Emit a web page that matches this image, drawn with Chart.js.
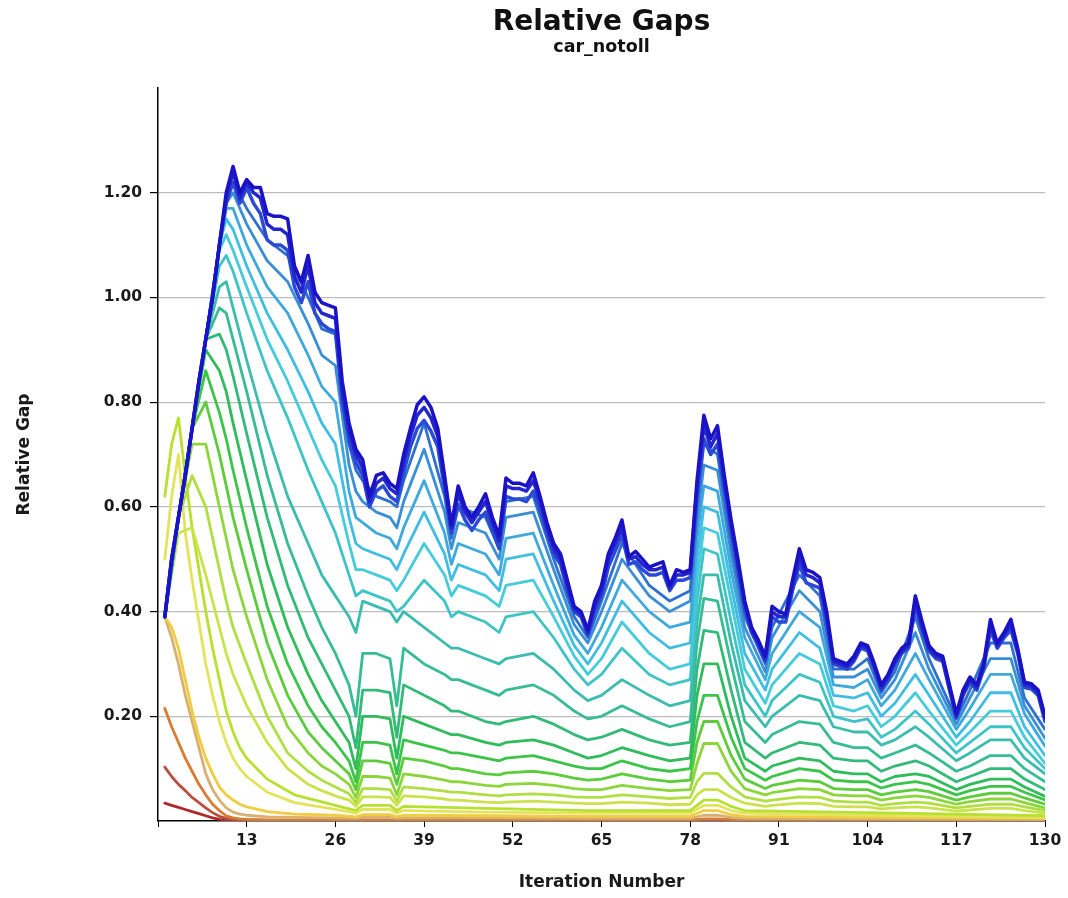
<!DOCTYPE html>
<html>
<head>
  <meta charset="utf-8">
  <title>Relative Gaps</title>
  <script src="https://cdn.jsdelivr.net/npm/chart.js"></script>
  <style>
    html, body { margin: 0; padding: 0; background: #fff; }
  </style>
</head>
<body>
  <canvas id="gapChart" width="1068" height="898"></canvas>

  <script>
    const titleText = 'Relative Gaps';
    const subTitleText = 'car_notoll';

    // top (blue) lines: one value per iteration, 1..130
    const blueTop = [
      .39,.50,.58,.66,.75,.84,.92,1.00,1.10,1.20,
      1.25,1.20,1.225,1.21,1.21,1.16,1.155,1.155,1.15,1.06,
      1.03,1.08,1.01,.99,.985,.98,.84,.76,.71,.69,
      .62,.66,.665,.645,.635,.70,.75,.795,.81,.79,
      .75,.66,.565,.64,.60,.58,.60,.625,.58,.545,
      .655,.645,.645,.64,.665,.62,.57,.53,.51,.46,
      .41,.40,.365,.42,.45,.51,.54,.575,.505,.515,
      .50,.485,.49,.495,.45,.48,.475,.48,.65,.775,
      .73,.755,.66,.575,.50,.42,.37,.345,.315,.41,
      .40,.395,.46,.52,.48,.475,.465,.40,.31,.305,
      .30,.315,.34,.335,.30,.26,.28,.31,.33,.34,
      .43,.38,.335,.32,.315,.26,.205,.25,.275,.26,
      .30,.385,.34,.36,.385,.33,.265,.262,.25,.20
    ];
    const blueMid = [
      .39,.50,.58,.66,.75,.84,.92,1.00,1.10,1.19,
      1.24,1.19,1.22,1.20,1.19,1.14,1.13,1.13,1.12,1.04,
      1.01,1.06,.99,.97,.965,.96,.82,.745,.70,.675,
      .61,.645,.655,.635,.625,.685,.735,.775,.79,.77,
      .735,.65,.56,.625,.59,.57,.59,.61,.57,.535,
      .64,.635,.635,.63,.65,.61,.56,.52,.50,.45,
      .405,.395,.36,.41,.44,.50,.53,.56,.50,.505,
      .49,.48,.48,.485,.445,.47,.47,.475,.64,.755,
      .715,.74,.65,.565,.49,.415,.365,.34,.31,.40,
      .39,.39,.45,.505,.47,.465,.455,.39,.305,.30,
      .295,.31,.335,.33,.295,.255,.275,.305,.325,.335,
      .42,.37,.33,.315,.31,.255,.20,.245,.27,.255,
      .295,.375,.335,.355,.375,.325,.26,.258,.245,.196
    ];
    const blueLow = [
      .39,.50,.58,.66,.75,.84,.92,1.00,1.10,1.18,
      1.22,1.18,1.21,1.18,1.16,1.11,1.10,1.10,1.09,1.02,
      .99,1.03,.97,.95,.94,.935,.80,.725,.685,.66,
      .60,.63,.64,.62,.61,.665,.715,.75,.765,.745,
      .715,.635,.55,.605,.575,.555,.575,.59,.555,.52,
      .62,.615,.615,.61,.63,.595,.55,.51,.49,.44,
      .40,.39,.355,.40,.43,.485,.515,.545,.49,.495,
      .48,.47,.47,.475,.44,.46,.46,.465,.62,.73,
      .70,.72,.635,.555,.48,.405,.36,.335,.305,.39,
      .38,.38,.44,.49,.455,.45,.445,.38,.30,.295,
      .29,.305,.33,.325,.29,.25,.27,.30,.32,.33,
      .41,.365,.325,.31,.305,.25,.197,.24,.265,.25,
      .29,.365,.33,.35,.365,.32,.255,.252,.24,.19
    ];

    // middle lines share a coarser iteration grid
    const gridIter = [
      1,3,5,7,9,10,11,13,
      16,19,22,24,26,28,29,30,
      32,34,35,36,39,42,43,44,
      48,50,51,55,58,61,63,65,
      68,72,75,78,79,80,82,84,
      86,89,90,94,97,99,102,104,
      106,108,111,113,117,119,122,125,
      127,130
    ];
    const mid01 = [
      .39,.58,.75,.92,1.10,1.19,1.22,1.17,
      1.11,1.08,1.00,.94,.93,.72,.67,.65,
      .62,.61,.60,.65,.76,.62,.54,.60,
      .58,.52,.61,.62,.50,.39,.35,.42,
      .53,.45,.42,.44,.60,.72,.70,.53,
      .39,.30,.37,.47,.43,.29,.29,.31,
      .245,.285,.39,.31,.195,.25,.34,.34,
      .235,.175
    ];
    const mid02 = [
      .39,.58,.75,.92,1.10,1.18,1.20,1.14,
      1.07,1.03,.95,.89,.87,.68,.63,.61,
      .59,.58,.56,.61,.71,.59,.52,.57,
      .55,.50,.58,.59,.48,.375,.34,.40,
      .50,.43,.40,.42,.57,.68,.67,.51,
      .37,.285,.35,.44,.40,.275,.275,.29,
      .235,.27,.36,.29,.185,.235,.31,.31,
      .22,.158
    ];
    const mid03 = [
      .39,.58,.75,.92,1.10,1.17,1.17,1.10,
      1.02,.97,.89,.83,.80,.63,.58,.57,
      .55,.54,.52,.56,.65,.55,.49,.53,
      .51,.47,.54,.55,.45,.355,.32,.37,
      .46,.40,.37,.38,.54,.64,.63,.48,
      .35,.27,.32,.40,.37,.26,.255,.27,
      .22,.25,.32,.27,.175,.215,.28,.28,
      .205,.143
    ];
    const mid04 = [
      .39,.58,.75,.92,1.10,1.15,1.13,1.06,
      .97,.90,.82,.76,.72,.58,.53,.52,
      .51,.50,.48,.51,.59,.51,.46,.49,
      .47,.44,.50,.51,.42,.335,.30,.34,
      .42,.36,.33,.34,.50,.60,.59,.45,
      .32,.25,.29,.36,.33,.24,.235,.245,
      .20,.225,.28,.24,.16,.19,.245,.245,
      .18,.125
    ];
    const mid05 = [
      .39,.58,.75,.92,1.09,1.12,1.09,1.02,
      .92,.84,.75,.69,.64,.53,.48,.48,
      .47,.46,.44,.46,.53,.47,.43,.45,
      .43,.41,.45,.46,.39,.315,.28,.31,
      .38,.32,.29,.30,.46,.56,.55,.42,
      .29,.225,.26,.32,.30,.22,.21,.22,
      .18,.20,.245,.21,.145,.17,.21,.21,
      .16,.11
    ];
    const mid06 = [
      .39,.58,.75,.92,1.06,1.08,1.05,.97,
      .86,.77,.67,.61,.55,.47,.43,.44,
      .43,.42,.40,.41,.46,.42,.39,.40,
      .38,.36,.39,.40,.35,.29,.26,.28,
      .33,.28,.26,.27,.42,.52,.51,.38,
      .26,.20,.23,.28,.265,.20,.19,.195,
      .16,.175,.21,.185,.13,.15,.18,.18,
      .14,.10
    ];
    const mid07 = [
      .39,.58,.75,.92,1.02,1.03,.98,.88,
      .74,.62,.53,.47,.43,.39,.36,.42,
      .41,.40,.38,.40,.37,.34,.33,.33,
      .31,.30,.31,.32,.29,.25,.23,.24,
      .27,.24,.22,.23,.38,.47,.47,.34,
      .23,.18,.20,.24,.23,.18,.17,.17,
      .145,.155,.18,.16,.115,.13,.155,.155,
      .12,.09
    ];
    const mid08 = [
      .39,.58,.75,.92,.98,.97,.92,.82,
      .66,.53,.43,.37,.32,.26,.20,.32,
      .32,.31,.22,.33,.30,.28,.27,.27,
      .25,.24,.25,.26,.24,.21,.195,.20,
      .22,.195,.18,.19,.34,.425,.42,.30,
      .19,.15,.165,.19,.185,.15,.14,.14,
      .12,.13,.145,.13,.095,.105,.125,.125,
      .10,.075
    ];
    const mid09 = [
      .39,.58,.75,.92,.93,.90,.85,.74,
      .58,.45,.35,.30,.25,.20,.14,.25,
      .25,.245,.16,.26,.24,.22,.21,.21,
      .19,.185,.19,.20,.185,.165,.155,.16,
      .175,.155,.145,.15,.29,.364,.36,.25,
      .15,.12,.13,.15,.145,.12,.115,.115,
      .095,.105,.115,.105,.075,.085,.10,.10,
      .08,.06
    ];
    const mid10 = [
      .39,.58,.75,.90,.86,.82,.76,.65,
      .49,.37,.28,.23,.19,.15,.10,.20,
      .20,.195,.12,.20,.185,.17,.165,.165,
      .15,.145,.15,.155,.145,.13,.12,.125,
      .14,.125,.115,.12,.24,.30,.30,.20,
      .12,.095,.105,.12,.115,.095,.09,.09,
      .075,.085,.09,.085,.06,.07,.08,.08,
      .065,.047
    ];
    const mid11 = [
      .39,.58,.75,.86,.78,.73,.67,.56,
      .41,.30,.22,.18,.15,.115,.075,.15,
      .15,.145,.09,.155,.145,.135,.13,.13,
      .12,.115,.12,.125,.115,.105,.10,.10,
      .115,.10,.095,.10,.19,.24,.24,.16,
      .10,.078,.085,.10,.095,.078,.075,.075,
      .063,.07,.075,.07,.05,.058,.066,.066,
      .055,.04
    ];
    const mid12 = [
      .39,.58,.75,.80,.70,.64,.58,.48,
      .34,.24,.17,.14,.115,.09,.06,.115,
      .115,.11,.07,.12,.115,.105,.10,.10,
      .09,.088,.092,.095,.09,.082,.078,.08,
      .09,.08,.075,.078,.15,.19,.19,.125,
      .08,.062,.068,.078,.075,.062,.06,.06,
      .05,.055,.06,.056,.04,.046,.053,.053,
      .044,.032
    ];
    const mid13 = [
      .39,.58,.72,.72,.60,.54,.48,.39,
      .27,.18,.13,.105,.09,.07,.045,.085,
      .085,.082,.05,.09,.085,.078,.075,.075,
      .068,.066,.07,.072,.068,.062,.06,.06,
      .068,.062,.058,.06,.11,.148,.148,.095,
      .062,.05,.054,.062,.06,.05,.048,.048,
      .04,.044,.048,.045,.032,.037,.042,.042,
      .035,.025
    ];
    const mid14 = [
      .39,.58,.66,.60,.48,.42,.37,.30,
      .20,.13,.095,.078,.065,.052,.035,.062,
      .062,.06,.038,.065,.062,.057,.055,.055,
      .05,.048,.05,.052,.05,.046,.045,.045,
      .05,.046,.043,.045,.075,.091,.091,.065,
      .046,.038,.04,.046,.045,.038,.036,.036,
      .03,.033,.036,.034,.025,.028,.032,.032,
      .027,.02
    ];
    const mid15 = [
      .39,.55,.56,.47,.37,.32,.28,.22,
      .15,.10,.07,.058,.048,.04,.028,.046,
      .046,.045,.03,.048,.046,.042,.04,.04,
      .036,.035,.036,.038,.036,.034,.033,.033,
      .036,.034,.031,.032,.05,.06,.06,.045,
      .034,.028,.03,.034,.033,.028,.027,.027,
      .023,.025,.027,.025,.019,.021,.024,.024,
      .02,.015
    ];

    // low lines (yellow to red) on their own grid
    const lowIter = [1,2,3,4,5,6,7,8,9,10,11,12,13,16,20,26,29,30,34,35,36,48,63,78,80,82,84,86,104,130];
    const yellow1 = [.62,.72,.77,.66,.56,.48,.40,.33,.27,.21,.17,.14,.12,.08,.05,.03,.02,.03,.03,.02,.028,.024,.02,.02,.04,.04,.028,.02,.016,.01];
    const yellow2 = [.50,.62,.70,.55,.46,.38,.30,.24,.19,.15,.12,.10,.085,.055,.035,.022,.015,.022,.022,.015,.02,.017,.015,.015,.03,.03,.02,.015,.011,.007];
    const yellow3 = [.39,.37,.33,.27,.21,.16,.12,.09,.065,.05,.04,.032,.027,.018,.013,.011,.008,.012,.012,.008,.011,.01,.009,.009,.02,.02,.012,.009,.007,.005];
    const tan1 = [.39,.35,.30,.24,.19,.14,.09,.06,.04,.025,.017,.013,.011,.008,.007,.006,.005,.007,.007,.005,.006,.006,.005,.005,.011,.011,.007,.005,.004,.003];
    const red1 = [.215,.18,.15,.12,.095,.07,.05,.032,.02,.01,.006,.004,.003,.002,.002,.002,.002,.002,.002,.002,.002,.002,.002,.002,.004,.004,.003,.002,.002,.002];
    const red2 = [.103,.085,.07,.058,.045,.035,.025,.016,.009,.005,.003,.002,.002,.001,.001,.001,.001,.001,.001,.001,.001,.001,.001,.001,.001,.001,.001,.001,.001,.001];
    const red3 = [.034,.03,.026,.022,.018,.014,.01,.006,.003,.002,.001,.001,.001,.001,.001,.001,.001,.001,.001,.001,.001,.001,.001,.001,.001,.001,.001,.001,.001,.001];

    const yTicksShown = [0.2, 0.4, 0.6, 0.8, 1.0, 1.2];

    const topColors = ['#1a12c4', '#2226cc', '#2a4ad6'];
    const midColors = ['#2f70cf', '#3a8ed6', '#3fa8dc', '#40bde2', '#46cbdb', '#3fc4c6',
                       '#3cbcae', '#38bc94', '#34ba78', '#30bc5c', '#3cc44a', '#5ccc3c',
                       '#8cd63c', '#b0de44', '#cce24c'];
    const lowColors = ['#b8e030', '#e2e45c', '#f0cc40', '#d8b070', '#d87c34', '#b85040', '#b02828'];

    const denseIter = blueTop.map((_, i) => i + 1);
    function pts(xs, ys) { return xs.map((x, i) => ({ x: x, y: ys[i] })); }

    const datasets = [];
    [blueTop, blueMid, blueLow].forEach((ys, i) => datasets.push({
      data: pts(denseIter, ys), borderColor: topColors[i], borderWidth: 3.5
    }));
    [mid01, mid02, mid03, mid04, mid05, mid06, mid07, mid08, mid09, mid10,
     mid11, mid12, mid13, mid14, mid15].forEach((ys, i) => datasets.push({
      data: pts(gridIter, ys), borderColor: midColors[i], borderWidth: 2.8
    }));
    [yellow1, yellow2, yellow3, tan1, red1, red2, red3].forEach((ys, i) => datasets.push({
      data: pts(lowIter, ys), borderColor: lowColors[i], borderWidth: 2.8
    }));

    const isShown = v => yTicksShown.some(t => Math.abs(t - v) < 1e-6);

    const headerPlugin = {
      id: 'header',
      afterDraw(chart) {
        const { ctx, chartArea } = chart;
        const cx = (chartArea.left + chartArea.right) / 2;
        ctx.save();
        ctx.fillStyle = '#111';
        ctx.textAlign = 'center';
        ctx.textBaseline = 'middle';
        ctx.font = 'bold 28px "DejaVu Sans"';
        ctx.fillText(titleText, cx, 23);
        ctx.font = 'bold 17.5px "DejaVu Sans"';
        ctx.fillText(subTitleText, cx, 47);
        ctx.restore();
      }
    };

    const tickFont = { family: 'DejaVu Sans', weight: 'bold', size: 15.5 };
    const axisFont = { family: 'DejaVu Sans', weight: 'bold', size: 17 };

    new Chart(document.getElementById('gapChart'), {
      type: 'line',
      data: { datasets },
      plugins: [headerPlugin],
      options: {
        responsive: false,
        animation: false,
        layout: { padding: { left: 0, right: 23, top: 88, bottom: 0 } },
        plugins: { legend: { display: false }, tooltip: { enabled: false }, title: { display: false } },
        elements: {
          point: { radius: 0 },
          line: { tension: 0, borderJoinStyle: 'round', borderCapStyle: 'round', fill: false }
        },
        scales: {
          x: {
            type: 'linear', min: 0, max: 130,
            afterFit(s) { s.height = 77; },
            ticks: {
              stepSize: 13, autoSkip: false, maxRotation: 0, color: '#1a1a1a', font: tickFont, padding: 5,
              callback: v => v === 0 ? '' : v
            },
            grid: { drawOnChartArea: false, drawTicks: true, tickLength: 6, tickColor: '#000' },
            border: { color: '#000', width: 1.5 },
            title: { display: true, text: 'Iteration Number', color: '#1a1a1a', font: axisFont, padding: { top: 0, bottom: 5 } }
          },
          y: {
            min: 0, max: 1.4,
            afterFit(s) { s.width = 158; },
            ticks: {
              stepSize: 0.2, color: '#1a1a1a', font: tickFont, padding: 8,
              callback: v => isShown(v) ? v.toFixed(2) : ''
            },
            grid: {
              color: c => (c.tick && isShown(c.tick.value)) ? '#bdbdbd' : 'rgba(0,0,0,0)',
              tickColor: c => (c.tick && isShown(c.tick.value)) ? '#000' : 'rgba(0,0,0,0)',
              tickLength: 8, lineWidth: 1.2
            },
            border: { color: '#000', width: 1.5 },
            title: { display: true, text: 'Relative Gap', color: '#1a1a1a', font: axisFont, padding: { top: 14, bottom: 0 } }
          }
        }
      }
    });
  </script>
</body>
</html>
